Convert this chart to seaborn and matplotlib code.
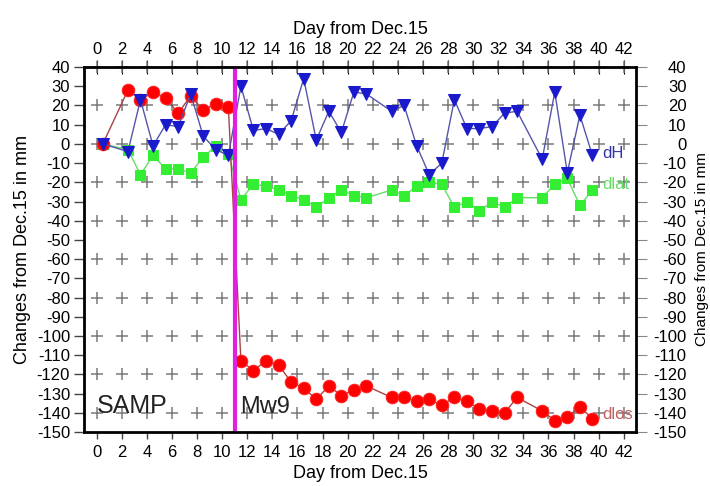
import numpy as np
import pandas as pd
import seaborn as sns
import matplotlib.pyplot as plt

# Days (from Dec.15) of the daily solutions
days = [0.5, 2.5, 3.5, 4.5, 5.5, 6.5, 7.5, 8.5, 9.5, 10.5,
        11.5, 12.5, 13.5, 14.5, 15.5, 16.5, 17.5, 18.5, 19.5, 20.5, 21.5,
        23.5, 24.5, 25.5, 26.5, 27.5, 28.5, 29.5, 30.5, 31.5, 32.5, 33.5,
        35.5, 36.5, 37.5, 38.5, 39.5]

# Changes in mm
dH = [0, -4, 23, -1, 10, 9, 26, 4, -3, -6,
      30, 7, 8, 5, 12, 34, 2, 17, 6, 27, 26,
      17, 20, -1, -16, -10, 23, 8, 8, 9, 16, 17,
      -8, 27, -15, 15, -6]
dlat = [0, -3, -16, -6, -13, -13, -15, -7, -1, -5,
        -29, -21, -22, -24, -27, -29, -33, -28, -24, -27, -28,
        -24, -27, -22, -20, -21, -33, -30, -35, -30, -33, -28,
        -28, -21, -18, -32, -24]
dlos = [0, 28, 23, 27, 24, 16, 25, 17.5, 21, 19,
        -113, -118, -113, -115, -124, -127, -133, -126, -131, -128, -126,
        -132, -132, -134, -133, -136, -132, -134, -138, -139, -140, -132,
        -139, -144, -142, -137, -143]

quake_day = 11
station = 'SAMP'
event = 'Mw9'

df = pd.DataFrame({'day': days, 'dH': dH, 'dlat': dlat, 'dlos': dlos})

plt.rcParams['font.family'] = ['Liberation Sans', 'DejaVu Sans']
plt.rcParams['axes.unicode_minus'] = False

fig = plt.figure(figsize=(7.1, 4.86), dpi=100)
ax = fig.add_axes([0.1183, 0.111, 0.778, 0.751])

# plus-sign grid
gx, gy = np.meshgrid(np.arange(0, 43, 2), np.arange(-140, 41, 20))
ax.scatter(gx.ravel(), gy.ravel(), marker='+', s=80, color='#7a7a7a',
           linewidths=1.1, zorder=1, clip_on=False)

sns.lineplot(data=df, x='day', y='dlat', ax=ax, color='#66dd66', lw=1,
             marker='s', markersize=6.5, markerfacecolor='#33ee33',
             markeredgecolor='#33ee33', zorder=3)
sns.lineplot(data=df, x='day', y='dlos', ax=ax, color='#aa4444', lw=1,
             marker='o', markersize=9, markerfacecolor='#ff0000',
             markeredgecolor='#ff2020', zorder=4)
sns.lineplot(data=df, x='day', y='dH', ax=ax, color='#5555aa', lw=1,
             marker='v', markersize=8.5, markerfacecolor='#1a1acc',
             markeredgecolor='#1a1acc', zorder=5)

ax.axvline(quake_day, color='#e020e0', lw=3, zorder=6)

ax.text(40.3, -5, 'dH', color='#3333aa', fontsize=12, va='center', zorder=7)
ax.text(40.3, -21, 'dlat', color='#66dd66', fontsize=12, va='center', zorder=7)
ax.text(40.3, -141, 'dlos', color='#c06060', fontsize=12, va='center', zorder=7)
ax.text(0, -140, station, fontsize=18, color='#222222', va='baseline')
ax.text(11.4, -140, event, fontsize=17, color='#222222', va='baseline')

ax.set_xlim(-1, 43)
ax.set_ylim(-150, 40)
xt = np.arange(0, 43, 2)
yt = np.arange(-150, 41, 10)
ax.set_xticks(xt)
ax.set_yticks(yt)
ax.tick_params(axis='both', labelsize=12, width=1, color='#444444')
ax.tick_params(axis='x', direction='out', length=5, pad=4)
ax.tick_params(axis='y', direction='out', length=7, pad=3)
ax.set_xlabel('Day from Dec.15', fontsize=13)
ax.set_ylabel('Changes from Dec.15 in mm', fontsize=13, labelpad=4)

top = ax.secondary_xaxis('top')
top.set_xticks(xt)
top.tick_params(direction='inout', length=10, labelsize=12, pad=2)
top.set_xlabel('Day from Dec.15', fontsize=13, labelpad=6)

right = ax.twinx()
right.set_ylim(ax.get_ylim())
right.tick_params(direction='out', length=8, labelsize=12, pad=28, color='#888888')
right.set_yticks(yt, labels=[str(v) for v in yt], ha='right')
right.set_ylabel('Changes from Dec.15 in mm', fontsize=11, rotation=90)
right.yaxis.set_label_coords(1.106, 0.5)

for s in right.spines.values():
    s.set_linewidth(2)

fig.savefig('out.png', dpi=100)
